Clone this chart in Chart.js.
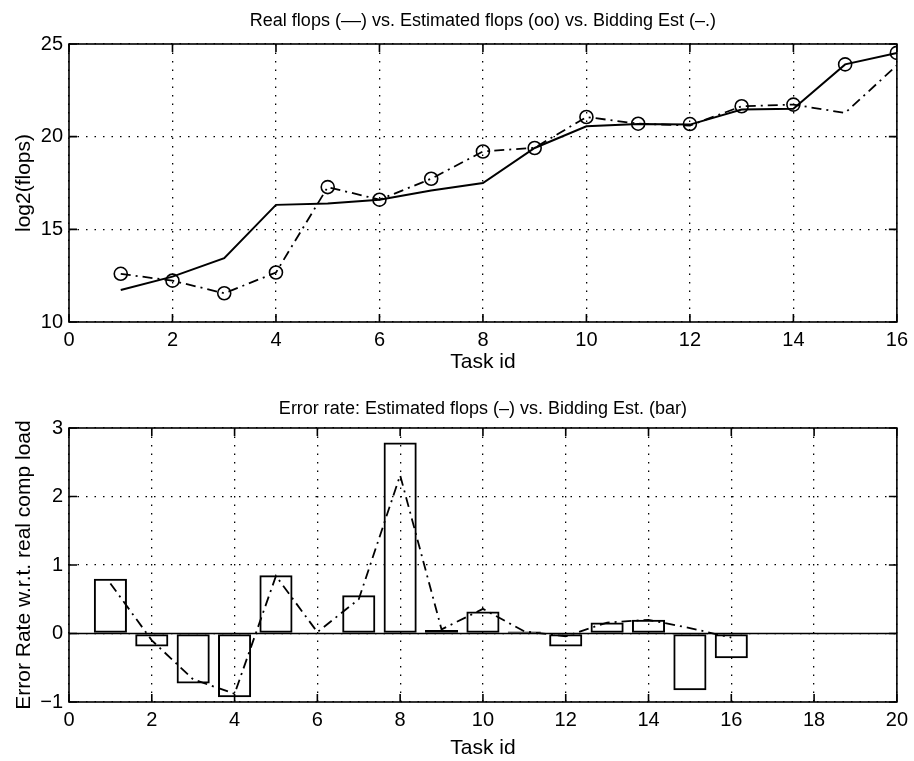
<!DOCTYPE html>
<html>
<head>
<meta charset="utf-8">
<title>Task flops</title>
<script src="https://cdn.jsdelivr.net/npm/chart.js@4.4.1/dist/chart.umd.min.js"></script>
<style>
  html, body { margin: 0; padding: 0; background: #fff; }
  #wrap { position: relative; width: 914px; height: 761px; }
  canvas { position: absolute; left: 0; }
  #flopsChart { top: 0; }
  #errorChart { top: 380px; }
</style>
</head>
<body>
<div id="wrap">
  <canvas id="flopsChart" width="914" height="380"></canvas>
  <canvas id="errorChart" width="914" height="381"></canvas>
</div>
<script>
// task ids 1..16
const taskIds = [1, 2, 3, 4, 5, 6, 7, 8, 9, 10, 11, 12, 13, 14, 15, 16];

// log2(flops) per task
const realFlops = [11.73, 12.45, 13.44, 16.32, 16.4, 16.6, 17.1, 17.5, 19.39, 20.56, 20.68, 20.65, 21.46, 21.5, 23.9, 24.52];
const estFlops  = [12.6, 12.23, 11.55, 12.67, 17.28, 16.6, 17.73, 19.2, 19.39, 21.06, 20.7, 20.68, 21.64, 21.73, 23.9, 24.52];
const bidFlops  = [12.6, 12.23, 11.55, 12.67, 17.28, 16.6, 17.73, 19.2, 19.4, 21.06, 20.7, 20.6, 21.64, 21.73, 21.28, 23.85];

// error rate w.r.t. real comp load
const bidError = [0.80, -0.19, -0.73, -0.93, 0.85, 0, 0.56, 2.79, 0.05, 0.32, 0.03, -0.19, 0.16, 0.2, -0.83, -0.36];
const estError = [0.73, -0.1, -0.67, -0.88, 0.84, 0.02, 0.5, 2.31, 0.06, 0.36, 0.03, -0.04, 0.16, 0.2, 0.08, -0.06];

// axis ranges [min, max, step]
const flopsXTicks = [0, 16, 2];
const flopsYTicks = [10, 25, 5];
const errXTicks = [0, 20, 2];
const errYTicks = [-1, 3, 1];

const FONT = '"Liberation Sans", Arial, Helvetica, sans-serif';
const DASH_DOT = [10, 5, 2, 5];

const pts = vals => vals.map((v, i) => ({ x: taskIds[i], y: v }));

// axes title centred over the plot box, solid box, inward tick marks on all sides
const axesFrame = {
  id: 'axesFrame',
  beforeDatasetsDraw(chart, args, opts) {
    if (!opts.zeroLine) return;
    const { ctx, chartArea: a, scales: { y } } = chart;
    const py = y.getPixelForValue(0);
    ctx.save();
    ctx.strokeStyle = '#000';
    ctx.lineWidth = 1.5;
    ctx.beginPath();
    ctx.moveTo(a.left, py);
    ctx.lineTo(a.right, py);
    ctx.stroke();
    ctx.restore();
  },
  afterDraw(chart, args, opts) {
    const { ctx, chartArea: a, scales: { x, y } } = chart;
    const len = 8;
    ctx.save();
    ctx.strokeStyle = '#000';
    ctx.lineWidth = 1.6;
    ctx.strokeRect(a.left, a.top, a.right - a.left, a.bottom - a.top);
    ctx.beginPath();
    x.ticks.forEach(t => {
      const px = x.getPixelForValue(t.value);
      ctx.moveTo(px, a.bottom); ctx.lineTo(px, a.bottom - len);
      ctx.moveTo(px, a.top); ctx.lineTo(px, a.top + len);
    });
    y.ticks.forEach(t => {
      const py = y.getPixelForValue(t.value);
      ctx.moveTo(a.left, py); ctx.lineTo(a.left + len, py);
      ctx.moveTo(a.right, py); ctx.lineTo(a.right - len, py);
    });
    ctx.stroke();

    ctx.fillStyle = '#000';
    ctx.font = '18px ' + FONT;
    ctx.textAlign = 'center';
    ctx.textBaseline = 'middle';
    ctx.fillText(opts.title, (a.left + a.right) / 2, a.top - opts.titleGap);
    ctx.restore();
  },
};

function scale(range, title, opts) {
  const [min, max, step] = range;
  return {
    type: 'linear',
    min, max,
    offset: false,
    ticks: {
      stepSize: step,
      color: '#000',
      padding: opts.tickPad,
      font: { family: FONT, size: 20 },
      callback: v => String(v).replace('-', '\u2212'),
    },
    grid: { color: '#000', lineWidth: 1.3, drawTicks: false, offset: false },
    border: { display: false, dash: [1.5, 7] },
    title: {
      display: true,
      text: title,
      color: '#000',
      font: { family: FONT, size: 21 },
      padding: opts.titlePad,
    },
    afterFit: opts.fit,
  };
}

function baseOptions(titleText, top, titleGap, xScale, yScale, zeroLine) {
  return {
    responsive: false,
    animation: false,
    devicePixelRatio: 1,
    layout: { padding: { left: 0, right: 14, top, bottom: 0 } },
    plugins: {
      legend: { display: false },
      tooltip: { enabled: false },
      title: { display: false },
      axesFrame: { zeroLine, title: titleText, titleGap },
    },
    scales: { x: xScale, y: yScale },
  };
}

new Chart(document.getElementById('flopsChart'), {
  type: 'line',
  data: {
    datasets: [
      {
        label: 'Real flops',
        data: pts(realFlops),
        borderColor: '#000',
        borderWidth: 2,
        pointRadius: 0,
        tension: 0,
      },
      {
        label: 'Estimated flops',
        data: pts(estFlops),
        showLine: false,
        pointRadius: 6.5,
        pointBorderWidth: 1.6,
        pointBorderColor: '#000',
        pointBackgroundColor: 'rgba(0,0,0,0)',
      },
      {
        label: 'Bidding Est',
        data: pts(bidFlops),
        borderColor: '#000',
        borderWidth: 1.8,
        borderDash: DASH_DOT,
        pointRadius: 0,
        tension: 0,
      },
    ],
  },
  options: baseOptions(
    'Real flops (\u2013\u2013) vs. Estimated flops (oo) vs. Bidding Est (\u2013.)',
    44, 23,
    scale(flopsXTicks, 'Task id', { tickPad: 6, titlePad: { bottom: 5.4 }, fit: s => { s.height = 58; } }),
    scale(flopsYTicks, 'log2(flops)', { tickPad: 6, titlePad: { top: 11.4 }, fit: s => { s.width = 69; } }),
    false
  ),
  plugins: [axesFrame],
});

new Chart(document.getElementById('errorChart'), {
  type: 'bar',
  data: {
    datasets: [
      {
        type: 'line',
        label: 'Estimated flops',
        data: pts(estError),
        borderColor: '#000',
        borderWidth: 1.8,
        borderDash: DASH_DOT,
        pointRadius: 0,
        tension: 0,
      },
      {
        label: 'Bidding Est.',
        data: pts(bidError),
        backgroundColor: 'rgba(0,0,0,0)',
        borderColor: '#000',
        borderWidth: 2,
        borderSkipped: false,
        categoryPercentage: 1,
        barPercentage: 0.8,
      },
    ],
  },
  options: baseOptions(
    'Error rate: Estimated flops (\u2013) vs. Bidding Est. (bar)',
    48, 19,
    scale(errXTicks, 'Task id', { tickPad: 6, titlePad: { bottom: 0.4 }, fit: s => { s.height = 59; } }),
    scale(errYTicks, 'Error Rate w.r.t. real comp load', { tickPad: 6, titlePad: { top: 11.4 }, fit: s => { s.width = 69; } }),
    true
  ),
  plugins: [axesFrame],
});
</script>
</body>
</html>
